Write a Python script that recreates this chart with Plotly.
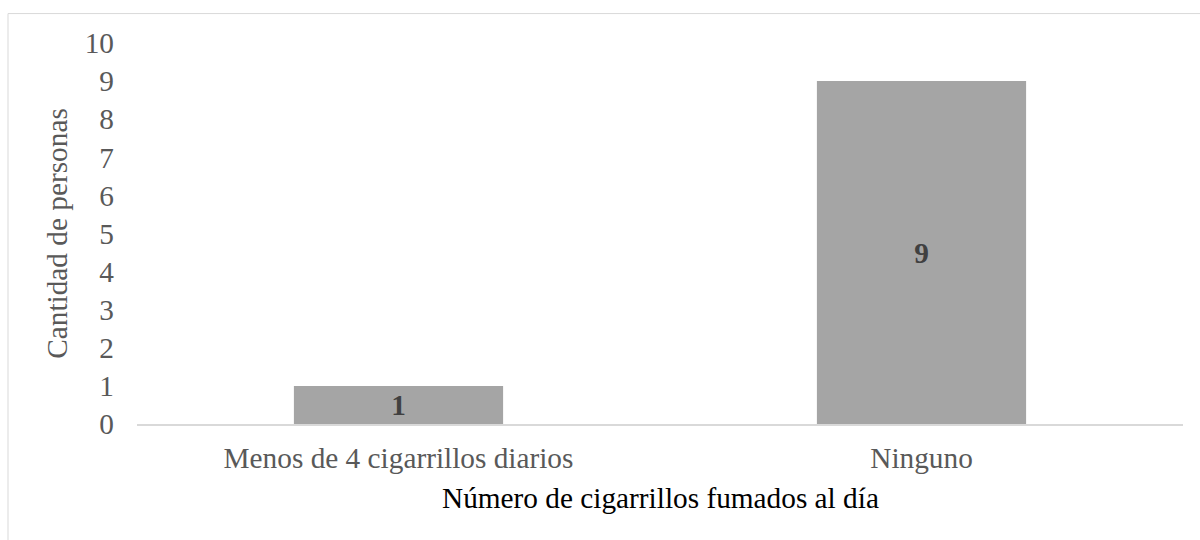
import plotly.graph_objects as go

# Number of cigarettes smoked per day vs. count of people
categories = ["Menos de 4 cigarrillos diarios", "Ninguno"]
counts = [1, 9]
y_ticks = [0, 1, 2, 3, 4, 5, 6, 7, 8, 9, 10]

FONT = "Liberation Serif, Times New Roman, serif"
FS = 29.3

# plot area in pixels
W, H = 1200, 540
L, R, T, B = 137, 17, 42.5, 115.5
pw, ph = W - L - R, H - T - B

fig = go.Figure(
    go.Bar(
        x=categories,
        y=counts,
        width=0.4,
        marker=dict(color="#a5a5a5", line=dict(width=0)),
        text=[str(v) for v in counts],
        textposition="inside",
        insidetextanchor="middle",
        textangle=0,
        textfont=dict(family=FONT, size=FS, color="#404040", weight="bold"),
        constraintext="none",
    )
)

fig.update_layout(
    width=W,
    height=H,
    margin=dict(l=L, r=R, t=T, b=B),
    paper_bgcolor="white",
    plot_bgcolor="white",
    showlegend=False,
    bargap=0.6,
    font=dict(family=FONT),
)

fig.update_xaxes(
    showgrid=False,
    showline=True,
    linecolor="#d9d9d9",
    linewidth=2,
    ticks="",
    tickfont=dict(family=FONT, size=FS, color="#595959"),
    ticklabelstandoff=7,
    zeroline=False,
)

fig.update_yaxes(
    range=[0, 10],
    tickvals=y_ticks,
    ticktext=[str(v) for v in y_ticks],
    showgrid=False,
    showline=False,
    zeroline=False,
    ticks="",
    tickfont=dict(family=FONT, size=FS, color="#595959"),
    ticklabelstandoff=22,
    title=dict(text="Cantidad de personas", font=dict(family=FONT, size=FS, color="#595959"), standoff=8),
)

# x-axis title
fig.add_annotation(
    text="Número de cigarrillos fumados al día",
    xref="paper", yref="paper",
    x=0.5, y=-(499 - (T + ph)) / ph,
    xanchor="center", yanchor="middle",
    showarrow=False,
    font=dict(family=FONT, size=FS, color="#000000"),
)

# chart frame
fig.add_shape(
    type="rect",
    xref="paper", yref="paper",
    x0=(8 - L) / pw, x1=(1210 - L) / pw,
    y0=-(560 - (T + ph)) / ph, y1=1 + (T - 13) / ph,
    line=dict(color="#d9d9d9", width=1),
    fillcolor="rgba(0,0,0,0)",
    layer="below",
)

fig.write_html("out.html")
